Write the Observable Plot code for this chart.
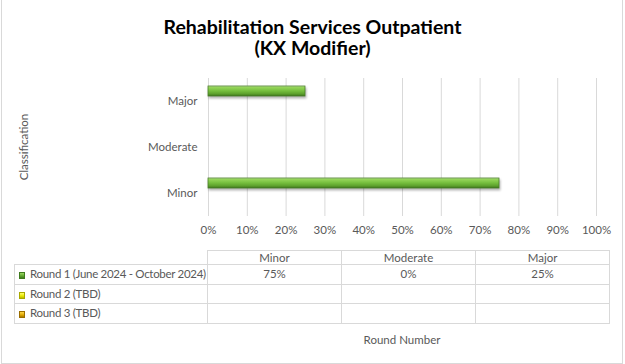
<!DOCTYPE html>
<html><head><meta charset="utf-8">
<script src="https://cdn.jsdelivr.net/npm/d3@7"></script>
<script src="https://cdn.jsdelivr.net/npm/@observablehq/plot@0.6"></script>
<style>
body{margin:0;background:#fff;}
#chart{position:relative;width:625px;height:364px;font-family:Lato, sans-serif;color:#595959;overflow:hidden;background:#fff;}
#frame{position:absolute;left:1px;top:-1px;width:620px;height:363px;border:1px solid #d9d9d9;}
#title{position:absolute;left:0;top:16px;width:625px;text-align:center;font-weight:bold;font-size:19.5px;line-height:21px;color:#000;}
#plot{position:absolute;left:0;top:0;}
#ytitle{position:absolute;left:23px;top:147px;transform:translate(-50%,-50%) rotate(-90deg);font-size:11.5px;white-space:nowrap;}
#xtitle{position:absolute;left:402px;top:339px;transform:translate(-50%,-50%);font-size:11.5px;white-space:nowrap;}
#tbl{position:absolute;left:14px;top:250px;width:596px;border-collapse:collapse;font-size:11.5px;color:#595959;table-layout:fixed;}
#tbl td{border:1px solid #d9d9d9;padding:0;text-align:center;line-height:12px;overflow:hidden;}
#tbl td.lab{text-align:left;padding-left:4px;white-space:nowrap;letter-spacing:-0.3px;}
#tbl td.blank{border-top:none;border-left:none;}
.sw{display:inline-block;width:6px;height:7px;margin-right:5px;vertical-align:-1px;box-sizing:border-box;}
.bar rect{filter:drop-shadow(1px 2px 1.2px rgba(0,0,0,0.3));}
</style>
</head><body>
<div id="chart">
  <div id="frame"></div>
  <div id="plot"></div>
  <div id="title"></div>
  <div id="ytitle"></div>
  <div id="xtitle"></div>
  <table id="tbl"></table>
</div>
<script>
// ---- data ----
const titleLines = ["Rehabilitation Services Outpatient", "(KX Modifier)"];
const yTitle = "Classification";
const xTitle = "Round Number";
const classifications = ["Minor", "Moderate", "Major"];
const rounds = ["Round 1 (June 2024 - October 2024)", "Round 2 (TBD)", "Round 3 (TBD)"];
const round1 = [0.75, 0, 0.25];
const round2 = [null, null, null];
const round3 = [null, null, null];
const xTicks = [0, 0.1, 0.2, 0.3, 0.4, 0.5, 0.6, 0.7, 0.8, 0.9, 1.0];
const roundColors = ["url(#g1)", "url(#g2)", "url(#g3)"];
const swatchBg = [
  "linear-gradient(#9ad862,#5fa52f 60%,#3f7a1e)",
  "linear-gradient(#ffff70,#e8e800 60%,#b8b800)",
  "linear-gradient(#ffd84a,#e0a800 60%,#a87800)"
];
const swatchBorder = ["#3f7a1e", "#a8a800", "#9a6e00"];

// ---- build ----
const series = [round1, round2, round3];
const data = rounds.flatMap((r, i) =>
  classifications.map((c, j) => ({round: r, cls: c, value: series[i][j], ri: i}))
).filter(d => d.value != null);

document.getElementById("title").innerHTML = titleLines.join("<br>");
document.getElementById("ytitle").textContent = yTitle;
document.getElementById("xtitle").textContent = xTitle;

const pct = d3.format(".0%");

const svg = Plot.plot({
  width: 625, height: 240,
  marginLeft: 208, marginRight: 29, marginTop: 77, marginBottom: 23,
  style: {fontFamily: "Lato, sans-serif", fontSize: "11.5px", color: "#595959", background: "transparent", overflow: "visible"},
  x: {domain: [0, 1], ticks: xTicks, tickFormat: pct, tickSize: 0, tickPadding: 9, label: null},
  fy: {domain: ["Major", "Moderate", "Minor"], padding: 0, label: null, tickSize: 0, tickPadding: 11, axis: "left"},
  y: {domain: rounds, paddingInner: 0, paddingOuter: 0.72, axis: null},
  color: {type: "identity"},
  marks: [
    Plot.gridX(xTicks, {stroke: "#d9d9d9", strokeOpacity: 1, strokeWidth: 1}),
    Plot.barX(data, {
      fy: "cls", y: "round", x: "value",
      fill: d => roundColors[d.ri],
      stroke: d => d.value > 0 ? "#4a7d28" : "#ececec",
      strokeWidth: 0.8,
      className: "bar"
    })
  ]
});
const defs = d3.select(svg).insert("defs", ":first-child");
function grad(id, stops) {
  const g = defs.append("linearGradient").attr("id", id).attr("x1", 0).attr("y1", 0).attr("x2", 0).attr("y2", 1);
  stops.forEach(([o, c]) => g.append("stop").attr("offset", o).attr("stop-color", c));
}
grad("g1", [[0, "#c2ea9c"], [0.15, "#94d458"], [0.5, "#74bd3d"], [0.8, "#5c9f2c"], [1, "#3a721b"]]);
grad("g2", [[0, "#ffff90"], [0.5, "#f0f000"], [1, "#b8b800"]]);
grad("g3", [[0, "#ffe070"], [0.5, "#e8b000"], [1, "#a87800"]]);
document.getElementById("plot").appendChild(svg);

// ---- data table ----
const tbl = d3.select("#tbl");
const cg = tbl.append("colgroup");
[193, 134, 134, 134].forEach(w => cg.append("col").style("width", w + "px"));
const hr = tbl.append("tr").style("height", "14px");
hr.append("td").attr("class", "blank");
classifications.forEach(c => hr.append("td").text(c));
rounds.forEach((r, i) => {
  const tr = tbl.append("tr").style("height", "19.5px");
  const lab = tr.append("td").attr("class", "lab");
  lab.append("span").attr("class", "sw").style("background", swatchBg[i]).style("border", "1px solid " + swatchBorder[i]);
  lab.append("span").text(r);
  series[i].forEach(v => tr.append("td").text(v == null ? "" : pct(v)));
});
</script>
</body></html>
